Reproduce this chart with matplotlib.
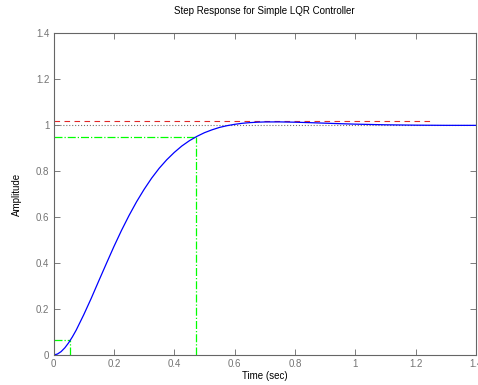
import matplotlib
matplotlib.use("Agg")
import matplotlib.pyplot as plt

# Step response
t = [0, 0.0125, 0.025, 0.0375, 0.05, 0.0625, 0.075, 0.1, 0.125, 0.15, 0.175,
     0.2, 0.225, 0.25, 0.275, 0.3, 0.325, 0.35, 0.375, 0.4, 0.425, 0.45,
     0.475, 0.5, 0.525, 0.55, 0.575, 0.6, 0.625, 0.65, 0.675, 0.7, 0.75,
     0.8, 0.85, 0.9, 0.95, 1.0, 1.1, 1.2, 1.3, 1.4]
amp = [0, 0.0038, 0.0145, 0.0312, 0.053, 0.0789, 0.108, 0.175, 0.247, 0.323,
       0.398, 0.472, 0.542, 0.607, 0.667, 0.721, 0.770, 0.813, 0.850, 0.882,
       0.910, 0.933, 0.952, 0.968, 0.9805, 0.991, 0.9986, 1.0044, 1.0089,
       1.0118, 1.0137, 1.0148, 1.015, 1.0137, 1.0117, 1.0094, 1.0072,
       1.0052, 1.0024, 1.0008, 1.0, 0.9999]

# characteristic markers
peak_amp = 1.017
peak_end = 1.256
final_value = 1.0
low_t, low_amp = 0.056, 0.064
high_t, high_amp = 0.473, 0.951

plt.rcParams['font.family'] = ['Liberation Sans', 'DejaVu Sans']

fig = plt.figure(figsize=(4.78, 3.85), dpi=100)
ax = fig.add_axes([0.112, 0.078, 0.884, 0.835])

ax.plot([0, 1.4], [final_value, final_value], ':', color='0.45', lw=0.8)
ax.plot([0, peak_end], [peak_amp, peak_amp], '--', color='#e02828', lw=0.8, dashes=(5, 4))
ax.plot([0, low_t], [low_amp, low_amp], '-.', color='#00ff00', lw=0.9)
ax.plot([low_t, low_t], [0, low_amp], '-.', color='#00ff00', lw=0.9)
ax.plot([0, high_t], [high_amp, high_amp], '-.', color='#00ff00', lw=0.9)
ax.plot([high_t, high_t], [0, high_amp], '-.', color='#00ff00', lw=0.9)
ax.plot(t, amp, color='#0000ff', lw=0.9)

ax.set_xlim(0, 1.4)
ax.set_ylim(0, 1.4)
ax.set_xticks([0, 0.2, 0.4, 0.6, 0.8, 1.0, 1.2, 1.4])
ax.set_xticklabels(['0', '0.2', '0.4', '0.6', '0.8', '1', '1.2', '1.4'])
ax.set_yticks([0, 0.2, 0.4, 0.6, 0.8, 1.0, 1.2, 1.4])
ax.set_yticklabels(['0', '0.2', '0.4', '0.6', '0.8', '1', '1.2', '1.4'])
ax.tick_params(direction='in', length=4, width=0.6, colors='0.4',
               labelcolor='0.45', labelsize=7, top=True, right=True, pad=3)
for s in ax.spines.values():
    s.set_color('0.4')
    s.set_linewidth(0.8)

ax.set_title('Step Response for Simple LQR Controller', fontsize=7, pad=14)
ax.set_xlabel('Time (sec)', fontsize=7, labelpad=1)
ax.set_ylabel('Amplitude', fontsize=7, labelpad=10)

fig.savefig('out.png', dpi=100)
